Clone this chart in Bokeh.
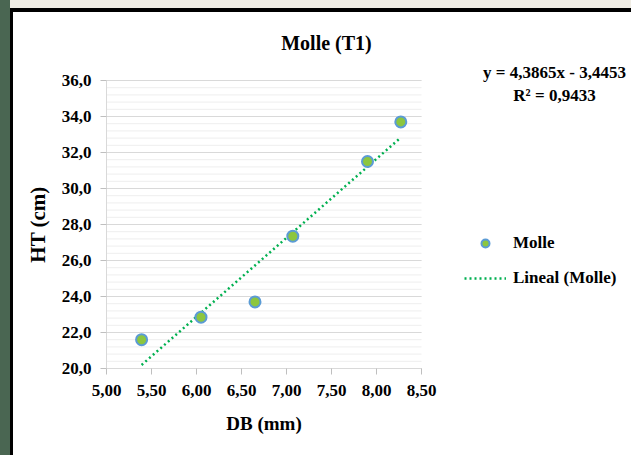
from bokeh.plotting import figure
from bokeh.models import (Range1d, FixedTicker, Label, Legend, LegendItem,
                          LinearAxis, Grid)
from bokeh.embed import file_html
from bokeh.resources import INLINE

# ---- data ----
db_mm = [5.39, 6.05, 6.65, 7.07, 7.90, 8.27]
ht_cm = [21.6, 22.85, 23.7, 27.35, 31.5, 33.7]
slope = 4.3865
intercept = -3.4453

x_ticks = [5.0, 5.5, 6.0, 6.5, 7.0, 7.5, 8.0, 8.5]
x_tick_labels = ["5,00", "5,50", "6,00", "6,50", "7,00", "7,50", "8,00", "8,50"]
y_ticks = [20, 22, 24, 26, 28, 30, 32, 34, 36]
y_tick_labels = ["20,0", "22,0", "24,0", "26,0", "28,0", "30,0", "32,0", "34,0", "36,0"]
y_minor = [20 + 0.4 * i for i in range(41)]

title_text = "Molle (T1)"
eq_text = "y = 4,3865x - 3,4453"
r2_text = "R\u00b2 = 0,9433"
series_name = "Molle"
trend_name = "Lineal (Molle)"

FONT = "Liberation Serif"
W, H = 631, 455
FL, FR, FT, FB = 106, 421, 80, 368   # plot-area edges in pixels
X0, X1 = x_ticks[0], x_ticks[-1]
Y0, Y1 = y_ticks[0], y_ticks[-1]

# pixel -> data helpers (the frame spans the whole canvas)
def px_x(px):
    return X0 + (px - FL) * (X1 - X0) / (FR - FL)

def px_y(py):
    return Y0 + (FB - py) * (Y1 - Y0) / (FB - FT)

p = figure(width=W, height=H, output_backend="svg", toolbar_location=None,
           title=None, x_axis_location=None, y_axis_location=None,
           x_range=Range1d(px_x(0), px_x(W)), y_range=Range1d(px_y(H), px_y(0)),
           min_border=0)
# drop any default grids
p.center = [r for r in p.center if not isinstance(r, Grid)]
p.renderers = [r for r in p.renderers if not isinstance(r, Grid)]
p.border_fill_color = None
p.background_fill_color = None
p.outline_line_color = None
p.styles = {
    "background": "linear-gradient(to right, #4a6652 10px, transparent 10px),"
                  "linear-gradient(to bottom, #efece4 8px, #000 8px, #000 12px, transparent 12px),"
                  "linear-gradient(to right, transparent 10px, #000 10px, #000 13px, #fff 13px)"
}

# gridlines (horizontal only, limited to the plot area)
p.segment(x0=X0, x1=X1, y0=y_minor, y1=y_minor, line_color="#eeeeee", line_width=1)
p.segment(x0=X0, x1=X1, y0=y_ticks, y1=y_ticks, line_color="#d9d9d9", line_width=1)

# axes pinned at the plot-area edges
xaxis = LinearAxis(fixed_location=Y0, bounds=(X0, X1),
                   ticker=FixedTicker(ticks=x_ticks),
                   major_label_overrides={t: l for t, l in zip(x_ticks, x_tick_labels)},
                   axis_label="DB (mm)")
yaxis = LinearAxis(fixed_location=X0, bounds=(Y0, Y1),
                   ticker=FixedTicker(ticks=y_ticks),
                   major_label_overrides={t: l for t, l in zip(y_ticks, y_tick_labels)},
                   axis_label="HT (cm)")
for ax in (xaxis, yaxis):
    ax.axis_line_color = "#d9d9d9"
    ax.major_tick_line_color = "#bfbfbf"
    ax.major_tick_out = 6
    ax.major_tick_in = 0
    ax.minor_tick_line_color = None
    ax.major_label_text_font = FONT
    ax.major_label_text_font_style = "bold"
    ax.major_label_text_font_size = "17px"
    ax.major_label_text_color = "#000000"
    ax.axis_label_text_font = FONT
    ax.axis_label_text_font_style = "bold"
    ax.axis_label_text_color = "#000000"
xaxis.axis_label_text_font_size = "19px"
yaxis.axis_label_text_font_size = "21px"
xaxis.major_label_standoff = 10
yaxis.major_label_standoff = 9
xaxis.axis_label_standoff = 14
yaxis.axis_label_standoff = 9
p.add_layout(xaxis, "below")
p.add_layout(yaxis, "left")

# trendline and points
tx = [min(db_mm), max(db_mm)]
ty = [slope * v + intercept for v in tx]
trend = p.line(tx, ty, line_color="#00b050", line_width=2.5, line_dash="2 3")
pts = p.scatter(db_mm, ht_cm, size=11, fill_color="#8cc63f",
                line_color="#5b9bd5", line_width=2)

legend = Legend(items=[LegendItem(label=series_name, renderers=[pts]),
                       LegendItem(label=trend_name, renderers=[trend])],
                location=(464, H - 288),
                glyph_width=42, glyph_height=20, label_height=20,
                label_standoff=7, spacing=15, padding=0, margin=0,
                border_line_color=None, background_fill_alpha=0,
                label_text_font=FONT, label_text_font_style="bold",
                label_text_font_size="17px", label_text_color="#000000")
p.add_layout(legend)

p.add_layout(Label(x=px_x(326), y=px_y(42), text=title_text, text_align="center",
                   text_baseline="middle", text_font=FONT, text_font_style="bold",
                   text_font_size="20px", text_color="#000000"))
p.add_layout(Label(x=px_x(554), y=px_y(72), text=eq_text, text_align="center",
                   text_baseline="middle", text_font=FONT, text_font_style="bold",
                   text_font_size="17px", text_color="#000000"))
p.add_layout(Label(x=px_x(554), y=px_y(95), text=r2_text, text_align="center",
                   text_baseline="middle", text_font=FONT, text_font_style="bold",
                   text_font_size="17px", text_color="#000000"))

open("out.html", "w").write(file_html(p, INLINE))
